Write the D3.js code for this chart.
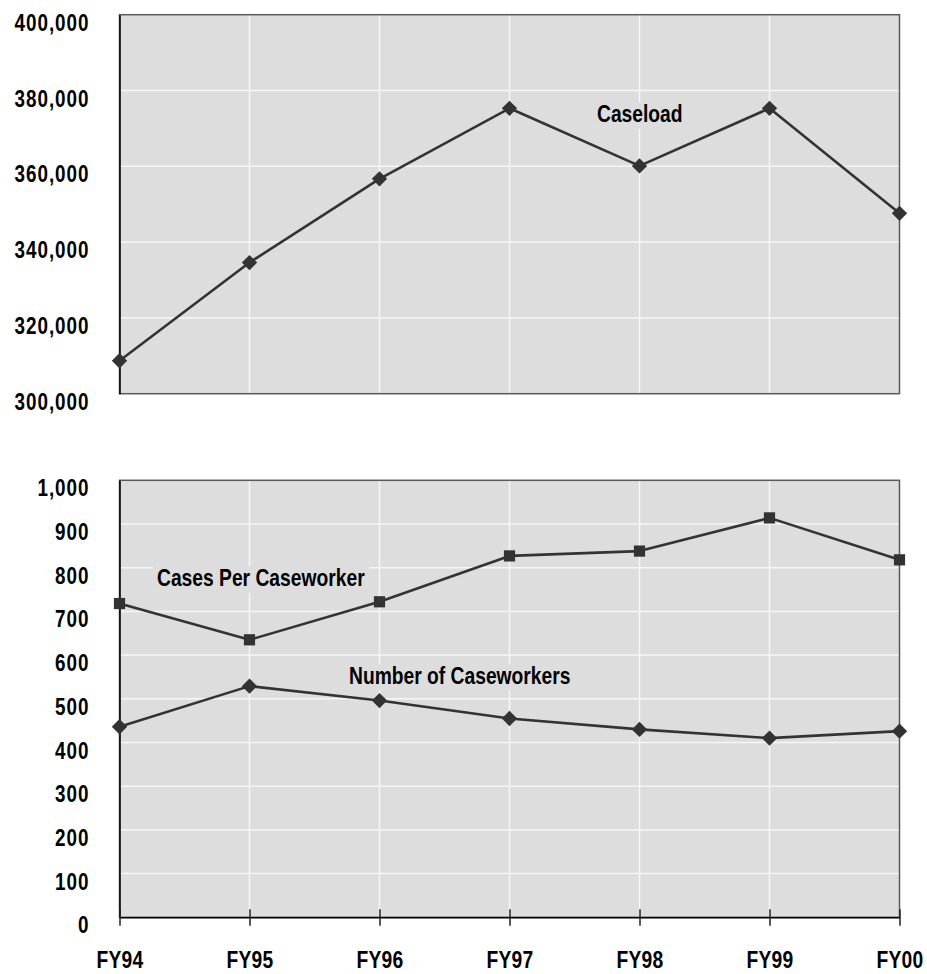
<!DOCTYPE html>
<html>
<head>
<meta charset="utf-8">
<script src="https://cdn.jsdelivr.net/npm/d3@7"></script>
<style>
  html, body { margin: 0; padding: 0; background: #ffffff; }
  svg text {
    font-family: "Liberation Sans", Arial, sans-serif;
    font-weight: bold;
    fill: #000;
  }
</style>
</head>
<body>
<svg id="chart" width="927" height="974"></svg>
<script>
// Fiscal years on the shared x axis
const years = ["FY94", "FY95", "FY96", "FY97", "FY98", "FY99", "FY00"];

// Total caseload per year
const caseload = [308700, 334600, 356700, 375300, 360100, 375300, 347600];

// Average cases handled by one caseworker
const casesPerWorker = [718, 635, 722, 827, 838, 914, 818];

// Number of caseworkers on staff
const caseworkers = [436, 529, 496, 455, 430, 410, 426];

// Axis tick values
const topTicks = [300000, 320000, 340000, 360000, 380000, 400000];
const bottomTicks = [0, 100, 200, 300, 400, 500, 600, 700, 800, 900, 1000];

const svg = d3.select("#chart");
const plotBg = "#dddddd";
const gridColor = "#f6f6f6";
const ink = "#333333";
const fmt = d3.format(",");
const narrow = 0.82; // horizontal squeeze to get a condensed face

// squeeze each text horizontally about its own x anchor
function condense(sel) {
  sel.each(function () {
    const t = d3.select(this);
    const ax = +t.attr("x") || 0;
    t.attr("transform", `translate(${ax},0) scale(${narrow},1) translate(${-ax},0)`);
  });
}

const x = d3.scalePoint().domain(years).range([119.5, 899.5]);

const yTop = d3.scaleLinear().domain([300000, 400000]).range([393.7, 14.7]);
const yBot = d3.scaleLinear().domain([0, 1000]).range([917.3, 480.3]);

function panel(y, ticks) {
  const g = svg.append("g");
  const [y0, y1] = y.range();
  const [x0, x1] = x.range();

  g.append("rect")
    .attr("x", x0).attr("y", y1)
    .attr("width", x1 - x0).attr("height", y0 - y1)
    .attr("fill", plotBg);

  // horizontal grid
  g.selectAll("line.hgrid")
    .data(ticks.slice(1, -1))
    .join("line")
    .attr("x1", x0).attr("x2", x1)
    .attr("y1", d => y(d)).attr("y2", d => y(d))
    .attr("stroke", gridColor).attr("stroke-width", 1.5);

  // vertical grid
  g.selectAll("line.vgrid")
    .data(years.slice(1, -1))
    .join("line")
    .attr("x1", d => x(d)).attr("x2", d => x(d))
    .attr("y1", y1).attr("y2", y0)
    .attr("stroke", gridColor).attr("stroke-width", 1.5);

  // frame: dark grey top/right/bottom, black left axis
  g.append("rect")
    .attr("x", x0).attr("y", y1)
    .attr("width", x1 - x0).attr("height", y0 - y1)
    .attr("fill", "none").attr("stroke", "#5a5a5a").attr("stroke-width", 1.5);

  const yAxis = d3.axisLeft(y)
    .tickValues(ticks)
    .tickSize(0)
    .tickPadding(30)
    .tickFormat(fmt);
  const ag = g.append("g").attr("transform", `translate(${x0},0)`).call(yAxis);
  ag.select(".domain").attr("stroke", "#000").attr("stroke-width", 1.5);
  ag.selectAll("text")
    .attr("font-size", 23)
    .attr("letter-spacing", "1.2px")
    .attr("dy", "0.85em")
    .attr("y", -4)
    .call(condense);
  return g;
}

function series(y, values, symbol, size) {
  const g = svg.append("g");
  const line = d3.line().x((d, i) => x(years[i])).y(d => y(d));
  g.append("path")
    .datum(values)
    .attr("d", line)
    .attr("fill", "none")
    .attr("stroke", ink)
    .attr("stroke-width", 2.6)
    .attr("stroke-linejoin", "round");
  g.selectAll("path.mark")
    .data(values)
    .join("path")
    .attr("class", "mark")
    .attr("transform", (d, i) => `translate(${x(years[i])},${y(d)})`)
    .attr("d", d3.symbol().type(symbol).size(size))
    .attr("fill", ink);
}

// series name with a plot-coloured backing that hides the grid behind it
function label(text, lx, ly) {
  const g = svg.append("g")
    .attr("transform", `translate(${lx},0) scale(${narrow},1) translate(${-lx},0)`);
  const t = g.append("text")
    .attr("x", lx).attr("y", ly)
    .attr("font-size", 23.5)
    .text(text);
  const b = t.node().getBBox();
  g.insert("rect", "text")
    .attr("x", b.x - 5).attr("y", b.y + 1)
    .attr("width", b.width + 10).attr("height", b.height)
    .attr("fill", plotBg);
}

// Upper panel: caseload
panel(yTop, topTicks);
label("Caseload", 597, 122);
series(yTop, caseload, d3.symbolDiamond2, 150);

// Lower panel: cases per caseworker and staff count
panel(yBot, bottomTicks);
label("Cases Per Caseworker", 157, 586);
label("Number of Caseworkers", 349, 684);
series(yBot, casesPerWorker, d3.symbolSquare2, 160);
series(yBot, caseworkers, d3.symbolDiamond2, 150);

// Shared x axis under the lower panel, ticks crossing the baseline
const xAxis = d3.axisBottom(x).tickSize(0).tickPadding(0);
const xg = svg.append("g").attr("transform", `translate(0,${yBot(0)})`).call(xAxis);
xg.select(".domain").attr("stroke", "#000").attr("stroke-width", 1.5);
xg.selectAll(".tick line")
  .attr("y1", -8).attr("y2", 8.5)
  .attr("stroke", "#222").attr("stroke-width", 1.5);
xg.selectAll(".tick text")
  .attr("font-size", 23.5)
  .attr("dy", 0)
  .attr("y", 51)
  .attr("letter-spacing", "0.3px")
  .call(condense);
</script>
</body>
</html>
